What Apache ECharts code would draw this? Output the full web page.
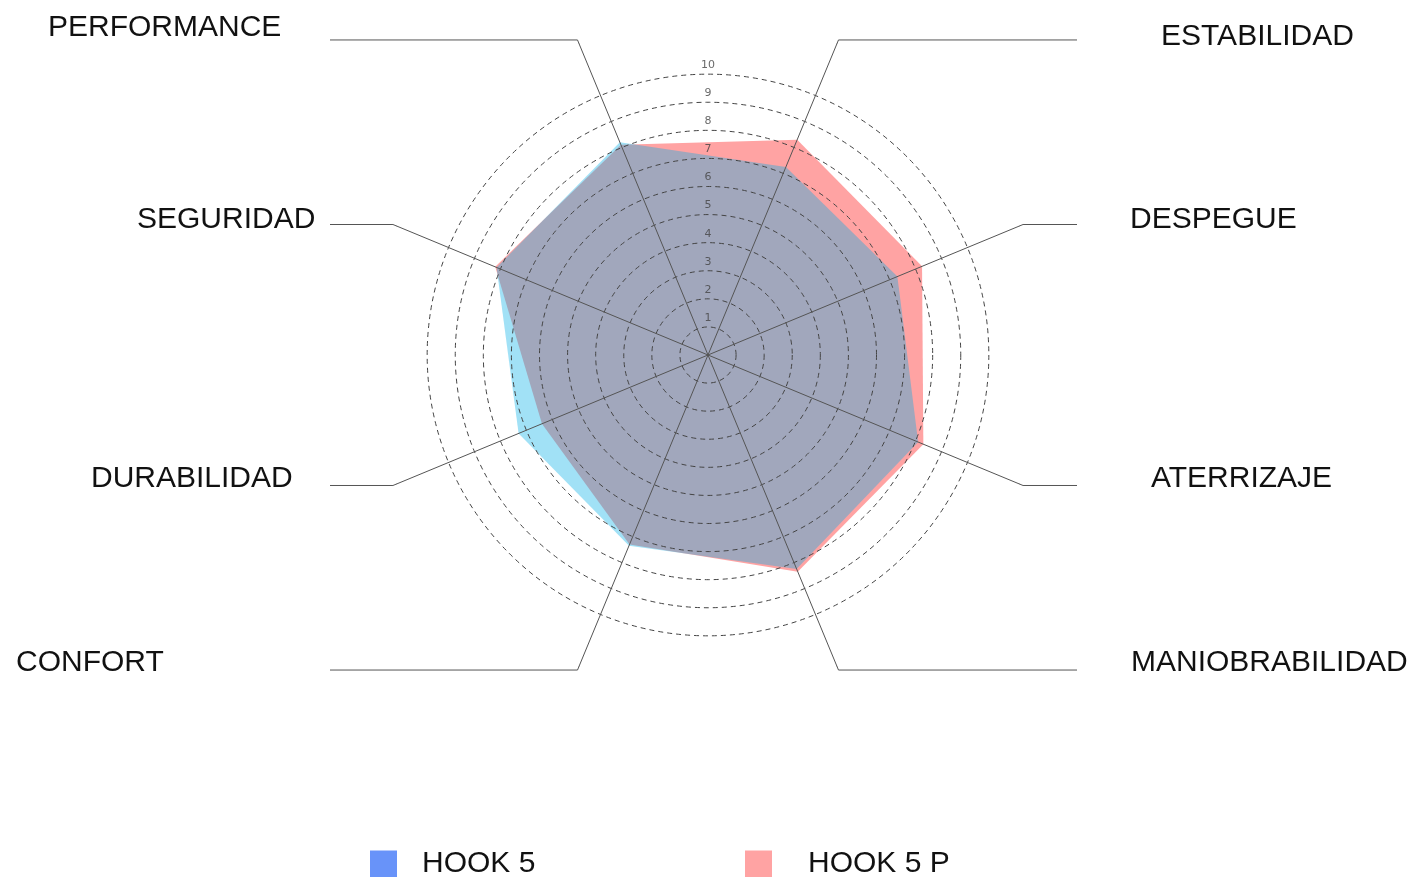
<!DOCTYPE html>
<html>
<head>
<meta charset="utf-8">
<title>HOOK 5 vs HOOK 5 P</title>
<script src="https://cdn.jsdelivr.net/npm/echarts@6/dist/echarts.min.js"></script>
<style>
  html, body { margin: 0; padding: 0; background: #fff; }
  #chart { width: 1415px; height: 877px; }
</style>
</head>
<body>
<div id="chart"></div>
<script>
// ejes del radar, en el orden en que ECharts los reparte (antihorario desde PERFORMANCE)
const categories = ['PERFORMANCE', 'SEGURIDAD', 'DURABILIDAD', 'CONFORT',
  'MANIOBRABILIDAD', 'ATERRIZAJE', 'DESPEGUE', 'ESTABILIDAD'];

// valores (escala 0-10)
const hook5 = [8.2, 8.15, 7.3, 7.35, 8.25, 8.1, 7.3, 7.25];
const hook5p = [8.1, 8.2, 6.4, 7.3, 8.35, 8.3, 8.25, 8.3];

// etiquetas de la escala
const tickLabels = [1, 2, 3, 4, 5, 6, 7, 8, 9, 10];

const seriesNames = ['HOOK 5', 'HOOK 5 P'];

// posición de los nombres de eje (x izquierda, y centro)
const labelPos = [
  [48, 28], [137, 220], [91, 479], [16, 663],
  [1131, 663], [1151, 479], [1130, 220], [1161, 37]
];

const CX = 708, CY = 355;
const RADIUS = 337;     // radio del máximo (12)
const LEADER_R = 341;   // fin de la línea radial
const LEFT_END = 330, RIGHT_END = 1077;
const START_ANGLE = 112.5;

const chart = echarts.init(document.getElementById('chart'));

// líneas guía y nombres de los ejes
const graphics = [];
categories.forEach((name, i) => {
  const a = (START_ANGLE + i * 360 / categories.length) * Math.PI / 180;
  const x0 = CX + RADIUS * Math.cos(a), y0 = CY - RADIUS * Math.sin(a);
  const x1 = CX + LEADER_R * Math.cos(a), y1 = CY - LEADER_R * Math.sin(a);
  const xe = Math.cos(a) > 0 ? RIGHT_END : LEFT_END;
  graphics.push({
    type: 'polyline', z: 10, silent: true,
    shape: { points: [[x0, y0], [x1, y1], [xe, y1]] },
    style: { stroke: '#555', lineWidth: 1, fill: null }
  });
  graphics.push({
    type: 'text', z: 10, silent: true,
    x: labelPos[i][0], y: labelPos[i][1],
    style: {
      text: name, fill: '#111', font: '30px "Liberation Sans", Arial, sans-serif',
      align: 'left', verticalAlign: 'middle'
    }
  });
});

// 0..10 visibles, 11 y 12 ocultos
const splitColors = [];
for (let i = 0; i <= 12; i++) splitColors.push(i <= 10 ? '#444' : 'rgba(0,0,0,0)');

const legendText = { color: '#111', fontSize: 30, fontFamily: 'Liberation Sans', lineHeight: 27 };

const option = {
  backgroundColor: '#fff',
  animation: false,
  legend: [
    {
      data: [seriesNames[0]], left: 370, top: 849, icon: 'rect', padding: 0,
      itemWidth: 27, itemHeight: 27,
      textStyle: Object.assign({ padding: [0, 0, 0, 20] }, legendText)
    },
    {
      data: [seriesNames[1]], left: 745, top: 849, icon: 'rect', padding: 0,
      itemWidth: 27, itemHeight: 27,
      textStyle: Object.assign({ padding: [0, 0, 0, 31] }, legendText)
    }
  ],
  radar: {
    center: [CX, CY],
    radius: RADIUS,
    startAngle: START_ANGLE,
    splitNumber: 12,
    shape: 'circle',
    z: 3,
    indicator: categories.map(n => ({ name: n, min: 0, max: 12 })),
    axisName: { show: false },
    axisLine: { lineStyle: { color: '#555', width: 1 } },
    axisTick: { show: false },
    axisLabel: { show: false },
    splitLine: { lineStyle: { color: splitColors, width: 1, type: [5, 4] } },
    splitArea: { show: false }
  },
  polar: { center: [CX, CY], radius: RADIUS },
  angleAxis: { type: 'value', min: 0, max: 360, startAngle: 90, show: false },
  radiusAxis: { type: 'value', min: 0, max: 12, show: false },
  series: [
    {
      name: seriesNames[1],
      type: 'radar',
      z: 1,
      symbol: 'none',
      itemStyle: { color: '#ffa3a3' },
      lineStyle: { width: 0 },
      areaStyle: { color: '#ffa3a3', opacity: 1 },
      data: [{ value: hook5p, name: seriesNames[1] }]
    },
    {
      name: seriesNames[0],
      type: 'radar',
      z: 2,
      symbol: 'none',
      itemStyle: { color: '#6893f9' },
      lineStyle: { width: 0 },
      areaStyle: { color: 'rgb(0,174,230)', opacity: 0.37 },
      data: [{ value: hook5, name: seriesNames[0] }]
    },
    {
      type: 'scatter',
      coordinateSystem: 'polar',
      z: 5,
      silent: true,
      symbolSize: 0,
      label: {
        show: true, position: 'inside', offset: [0, -9],
        formatter: p => p.value[0],
        color: '#444', fontSize: 11, fontFamily: 'DejaVu Sans'
      },
      data: tickLabels.map(t => [t, 0])
    }
  ],
  graphic: graphics
};

chart.setOption(option);
</script>
</body>
</html>
